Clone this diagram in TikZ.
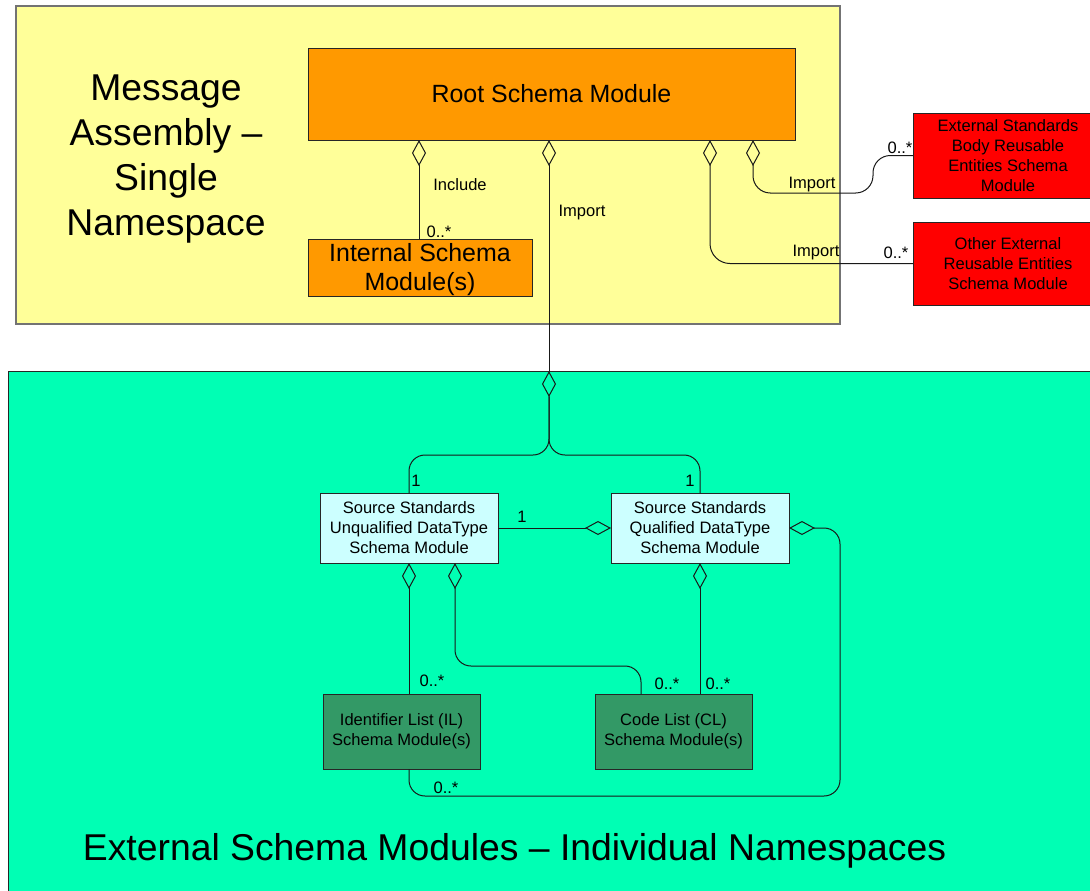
\documentclass[tikz,border=0pt]{standalone}
\usepackage{fontspec}
\setmainfont{Liberation Sans}
\usetikzlibrary{arrows.meta,calc}

\definecolor{areaYellow}{HTML}{FFFF99}
\definecolor{areaGreen}{HTML}{00FFB4}
\definecolor{rootOrange}{HTML}{FF9900}
\definecolor{extRed}{HTML}{FF0000}
\definecolor{dtCyan}{HTML}{CCFFFF}
\definecolor{listGreen}{HTML}{339966}

\begin{document}
\begin{tikzpicture}[x=0.75pt,y=-0.75pt,
  sz/.style 2 args={minimum width=#1*0.75pt, minimum height=#2*0.75pt},
  box/.style={draw=black!85, line width=0.75pt, inner sep=0pt, outer sep=0pt, align=center},
  small/.style={font=\fontsize{12.4}{15}\selectfont},
  mid/.style={font=\fontsize{18.7}{21.75}\selectfont},
  big/.style={font=\fontsize{28}{33.75}\selectfont},
  conn/.style={draw=black!90, line width=0.75pt, rounded corners=12pt},
  agg/.style={{Diamond[open,length=19.5pt,width=10.5pt]}-},
  aggend/.style={-{Diamond[open,length=19.5pt,width=10.5pt]}},
  lbl/.style={small, inner sep=0pt}
]
\useasboundingbox (0,0) rectangle (1090,890);
\clip (0,0) rectangle (1090,890);
\fill[white] (0,0) rectangle (1090,890);

% namespace areas
\node[box, draw=black!55, line width=1pt, fill=areaYellow, sz={824}{318}] (msgns) at (428,165) {};
\node[box, fill=areaGreen, sz={1100}{540}] (extns) at (558,641) {};

\node[big, align=center] (msgtitle) at (166,159) {Message\\Assembly –\\Single\\Namespace};
\node[big] (exttitle) at (514.5,851) {External Schema Modules – Individual Namespaces};

% schema modules
\node[box, fill=rootOrange, mid, sz={487}{92}] (root) at (551.5,94) {Root Schema Module};
\node[box, fill=rootOrange, sz={224}{57}] (internal) at (420,267.5) {};
\node[mid, align=center, inner sep=0pt] (internalText) at (420,270) {Internal Schema\\Module(s)};
\node[box, fill=extRed, small, sz={190}{85}] (ext1) at (1008,155.5) {External Standards\\Body Reusable\\Entities Schema\\Module};
\node[box, fill=extRed, small, sz={190}{83}] (ext2) at (1008,263.5) {Other External\\Reusable Entities\\Schema Module};
\node[box, fill=dtCyan, small, sz={178}{70}] (unq) at (409,528) {Source Standards\\Unqualified DataType\\Schema Module};
\node[box, fill=dtCyan, small, sz={178}{70}] (qual) at (700,528) {Source Standards\\Qualified DataType\\Schema Module};
\node[box, fill=listGreen, small, sz={157}{75}] (il) at (401.5,731.5) {Identifier List (IL)\\Schema Module(s)};
\node[box, fill=listGreen, small, sz={157}{75}] (cl) at (673.5,731.5) {Code List (CL)\\Schema Module(s)};

% connector columns
\coordinate (x409) at (409,0);
\coordinate (x419) at (419,0);
\coordinate (x455) at (455,0);
\coordinate (x549) at (549,0);
\coordinate (x641) at (641,0);
\coordinate (x710) at (710,0);
\coordinate (x753) at (753,0);
\coordinate (hub) at (549,397);

% connectors from the root module
\draw[conn,agg] (root.south -| x419) -- (internal.north -| x419);
\draw[conn,agg] (root.south -| x549) -- (extns.north -| x549);
\draw[conn,agg,rounded corners=15pt] (root.south -| x710) |- (ext2.west);
\draw[conn,agg,rounded corners=13pt] (root.south -| x753) |- (873,193) |- (ext1.west);

% external namespace fork
\draw[conn,agg] (extns.north -| x549) -- (549,455) -| (unq.north -| x409);
\draw[conn] (hub) -- (549,455) -| (qual.north);

% data type modules
\draw[conn,aggend] (unq.east) -- (qual.west);
\draw[conn,agg] (qual.east) -- (840,528) -- (840,796) -- (409,796) -- (il.south -| x409);
\draw[conn,agg] (unq.south -| x409) -- (il.north -| x409);
\draw[conn,agg] (unq.south -| x455) -- (455,666) -- (641,666) -- (cl.north -| x641);
\draw[conn,agg] (qual.south) -- (cl.north -| qual.south);

% connector labels
\node[lbl] (lInclude) at (460,185) {Include};
\node[lbl] (lIntMult) at (439,232) {0..*};
\node[lbl] (lImpRoot) at (582,213) {Import};
\node[lbl] (lImpExt1) at (812,185) {Import};
\node[lbl] (lExt1Mult) at (900,148) {0..*};
\node[lbl] (lImpExt2) at (816,253) {Import};
\node[lbl] (lExt2Mult) at (896,253) {0..*};
\node[lbl] (lUnqOne) at (416,481) {1};
\node[lbl] (lQualOne) at (690,481) {1};
\node[lbl] (lLinkOne) at (522,517) {1};
\node[lbl] (lIlMult) at (432,681) {0..*};
\node[lbl] (lClMultA) at (667,684) {0..*};
\node[lbl] (lClMultB) at (718,684) {0..*};
\node[lbl] (lLoopMult) at (446,788) {0..*};
\end{tikzpicture}
\end{document}
